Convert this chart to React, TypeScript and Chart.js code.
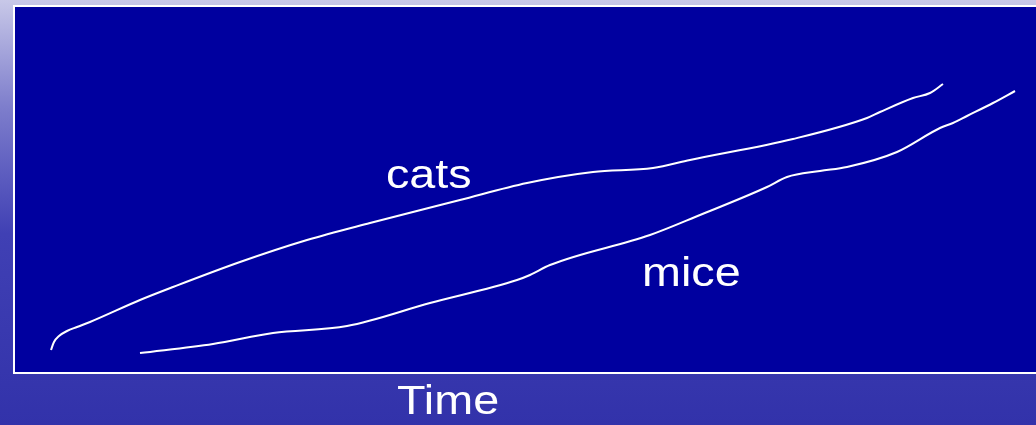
import React, { useEffect, useRef } from "react";
import { Chart, registerables } from "chart.js";

Chart.register(...registerables);

// Time (x) and population (y) readings for each series
const catsTime = [36, 39, 44, 52, 62, 75, 125, 158, 225, 292, 355, 445, 512, 578, 638, 675, 778, 852, 865, 898, 915, 928];
const catsValues = [22, 30, 36, 41, 45, 50, 72, 85, 110, 132, 149, 172, 189, 200, 204, 212, 233, 254, 260, 274, 279, 288];
const miceTime = [125, 198, 258, 332, 415, 502, 515, 535, 635, 685, 752, 772, 805, 832, 882, 925, 938, 952, 978, 1000];
const miceValues = [19, 28, 39, 46, 69, 92, 97, 107, 137, 157, 185, 195, 201, 205, 220, 244, 249, 256, 269, 281];

const seriesNames = ["cats", "mice"];
const axisTitle = "Time";

const W = 1036;
const H = 425;

const backgroundPlugin = {
  id: "slideBackground",
  beforeDraw(chart: any) {
    const { ctx, chartArea } = chart;
    ctx.save();
    const g = ctx.createLinearGradient(0, 0, 0, H);
    g.addColorStop(0, "#C8C8E8");
    g.addColorStop(0.25, "#7E7ECC");
    g.addColorStop(0.55, "#4040B4");
    g.addColorStop(1, "#3232AA");
    ctx.fillStyle = g;
    ctx.fillRect(0, 0, W, H);
    ctx.fillStyle = "#00009F";
    ctx.fillRect(chartArea.left, chartArea.top, chartArea.right - chartArea.left + 2, chartArea.bottom - chartArea.top);
    ctx.strokeStyle = "#FFFFFF";
    ctx.lineWidth = 2;
    ctx.strokeRect(chartArea.left - 1, chartArea.top - 1, chartArea.right - chartArea.left + 10, chartArea.bottom - chartArea.top + 2);
    ctx.restore();
  },
};

const labelsPlugin = {
  id: "slideLabels",
  afterDraw(chart: any) {
    const { ctx } = chart;
    const draw = (text: string, x: number, y: number) => {
      ctx.save();
      ctx.translate(x, y);
      ctx.scale(1.14, 1);
      ctx.font = '41px "Liberation Sans", Arial, sans-serif';
      ctx.fillStyle = "#FFFFFF";
      ctx.textBaseline = "alphabetic";
      ctx.textAlign = "left";
      ctx.fillText(text, 0, 0);
      ctx.restore();
    };
    draw(seriesNames[0], 386, 188);
    draw(seriesNames[1], 642, 286);
    draw(axisTitle, 397, 414);
  },
};

export default function App() {
  const ref = useRef<HTMLCanvasElement | null>(null);

  useEffect(() => {
    if (!ref.current) return;
    const chart = new Chart(ref.current, {
      type: "line",
      data: {
        datasets: [
          {
            label: seriesNames[0],
            data: catsTime.map((t, i) => ({ x: t, y: catsValues[i] })),
            borderColor: "#FFFFFF",
            borderWidth: 2,
            pointRadius: 0,
            cubicInterpolationMode: "monotone",
            fill: false,
          },
          {
            label: seriesNames[1],
            data: miceTime.map((t, i) => ({ x: t, y: miceValues[i] })),
            borderColor: "#FFFFFF",
            borderWidth: 2,
            pointRadius: 0,
            cubicInterpolationMode: "monotone",
            fill: false,
          },
        ],
      },
      options: {
        animation: false,
        responsive: false,
        clip: false,
        layout: { padding: { left: 15, right: 0, top: 7, bottom: H - 372 } },
        plugins: {
          legend: { display: false },
          tooltip: { enabled: false },
          title: { display: false },
        },
        scales: {
          x: { type: "linear", min: 0, max: 1021, display: false },
          y: { type: "linear", min: 0, max: 365, display: false },
        },
      },
      plugins: [backgroundPlugin, labelsPlugin],
    });
    return () => chart.destroy();
  }, []);

  return (
    <div style={{ position: "fixed", left: 0, top: 0, width: W, height: H }}>
      <canvas ref={ref} width={W} height={H} style={{ display: "block", width: W, height: H }} />
    </div>
  );
}
